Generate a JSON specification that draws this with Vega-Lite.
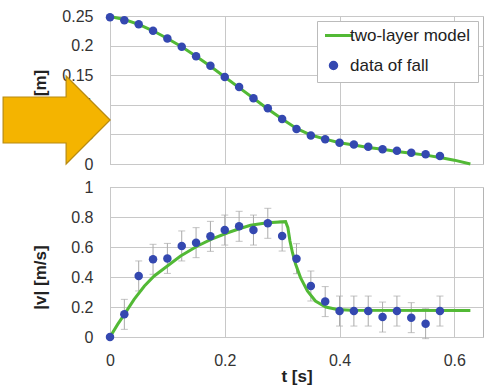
{
  "$schema": "https://vega.github.io/schema/vega-lite/v6.json",
  "background": "white",
  "padding": {"left": 0, "top": 7, "right": 4, "bottom": 1},
  "spacing": 5,
  "config": {
    "font": "Liberation Sans",
    "view": {"stroke": "#B4B4B4", "strokeWidth": 1},
    "axis": {
      "labelFont": "Liberation Sans", "labelFontSize": 16, "labelColor": "#333333", "labelOverlap": false, "labelFlush": false,
      "titleFont": "Liberation Sans", "titleFontSize": 17, "titleFontWeight": "bold", "titleColor": "#222222",
      "gridColor": "#C8C8C8", "gridWidth": 1, "domain": false, "ticks": false, "tickSize": 0
    }
  },
  "datasets": {
    "pos": [
      {"t": 0, "h": 0.248}, {"t": 0.025, "h": 0.243}, {"t": 0.05, "h": 0.236}, {"t": 0.075, "h": 0.225},
      {"t": 0.1, "h": 0.212}, {"t": 0.125, "h": 0.198}, {"t": 0.15, "h": 0.182}, {"t": 0.175, "h": 0.166},
      {"t": 0.2, "h": 0.147}, {"t": 0.225, "h": 0.130}, {"t": 0.25, "h": 0.111}, {"t": 0.275, "h": 0.094},
      {"t": 0.3, "h": 0.076}, {"t": 0.325, "h": 0.059}, {"t": 0.35, "h": 0.048}, {"t": 0.375, "h": 0.042},
      {"t": 0.4, "h": 0.036}, {"t": 0.425, "h": 0.033}, {"t": 0.45, "h": 0.029}, {"t": 0.475, "h": 0.025},
      {"t": 0.5, "h": 0.0225}, {"t": 0.525, "h": 0.019}, {"t": 0.55, "h": 0.0165}, {"t": 0.575, "h": 0.0135}
    ],
    "posModel": [
      {"t": 0, "h": 0.249}, {"t": 0.025, "h": 0.244}, {"t": 0.05, "h": 0.236}, {"t": 0.075, "h": 0.225},
      {"t": 0.1, "h": 0.212}, {"t": 0.125, "h": 0.198}, {"t": 0.15, "h": 0.182}, {"t": 0.175, "h": 0.165},
      {"t": 0.2, "h": 0.147}, {"t": 0.225, "h": 0.129}, {"t": 0.25, "h": 0.111}, {"t": 0.275, "h": 0.093},
      {"t": 0.3, "h": 0.076}, {"t": 0.325, "h": 0.060}, {"t": 0.35, "h": 0.049}, {"t": 0.375, "h": 0.042},
      {"t": 0.4, "h": 0.036}, {"t": 0.425, "h": 0.032}, {"t": 0.45, "h": 0.028}, {"t": 0.475, "h": 0.025},
      {"t": 0.5, "h": 0.021}, {"t": 0.525, "h": 0.018}, {"t": 0.55, "h": 0.015}, {"t": 0.575, "h": 0.011},
      {"t": 0.6, "h": 0.0065}, {"t": 0.628, "h": 0.0}
    ],
    "vel": [
      {"t": 0, "v": 0},
      {"t": 0.025, "v": 0.151, "lo": 0.051, "hi": 0.251}, {"t": 0.05, "v": 0.407, "lo": 0.307, "hi": 0.507},
      {"t": 0.075, "v": 0.518, "lo": 0.418, "hi": 0.618}, {"t": 0.1, "v": 0.524, "lo": 0.424, "hi": 0.624},
      {"t": 0.125, "v": 0.607, "lo": 0.507, "hi": 0.707}, {"t": 0.15, "v": 0.629, "lo": 0.529, "hi": 0.729},
      {"t": 0.175, "v": 0.671, "lo": 0.571, "hi": 0.771}, {"t": 0.2, "v": 0.713, "lo": 0.613, "hi": 0.813},
      {"t": 0.225, "v": 0.738, "lo": 0.638, "hi": 0.838}, {"t": 0.25, "v": 0.713, "lo": 0.613, "hi": 0.813},
      {"t": 0.275, "v": 0.758, "lo": 0.658, "hi": 0.858}, {"t": 0.3, "v": 0.673, "lo": 0.573, "hi": 0.773},
      {"t": 0.325, "v": 0.522, "lo": 0.422, "hi": 0.622}, {"t": 0.35, "v": 0.34, "lo": 0.24, "hi": 0.44},
      {"t": 0.375, "v": 0.236, "lo": 0.136, "hi": 0.336}, {"t": 0.4, "v": 0.173, "lo": 0.073, "hi": 0.273},
      {"t": 0.425, "v": 0.173, "lo": 0.073, "hi": 0.273}, {"t": 0.45, "v": 0.173, "lo": 0.073, "hi": 0.273},
      {"t": 0.475, "v": 0.133, "lo": 0.033, "hi": 0.233}, {"t": 0.5, "v": 0.173, "lo": 0.073, "hi": 0.273},
      {"t": 0.525, "v": 0.129, "lo": 0.029, "hi": 0.229}, {"t": 0.55, "v": 0.089, "lo": -0.011, "hi": 0.189},
      {"t": 0.575, "v": 0.173, "lo": 0.073, "hi": 0.273}
    ],
    "velModel": [
      {"t": 0, "v": 0}, {"t": 0.0133, "v": 0.084}, {"t": 0.025, "v": 0.151}, {"t": 0.042, "v": 0.251},
      {"t": 0.06, "v": 0.34}, {"t": 0.077, "v": 0.407}, {"t": 0.1, "v": 0.473}, {"t": 0.123, "v": 0.54},
      {"t": 0.1525, "v": 0.607}, {"t": 0.176, "v": 0.651}, {"t": 0.205, "v": 0.695}, {"t": 0.228, "v": 0.725},
      {"t": 0.245, "v": 0.745}, {"t": 0.274, "v": 0.762}, {"t": 0.306, "v": 0.769}, {"t": 0.31, "v": 0.729},
      {"t": 0.3136, "v": 0.64}, {"t": 0.318, "v": 0.562}, {"t": 0.3235, "v": 0.485}, {"t": 0.332, "v": 0.396},
      {"t": 0.344, "v": 0.307}, {"t": 0.358, "v": 0.24}, {"t": 0.376, "v": 0.2}, {"t": 0.396, "v": 0.183},
      {"t": 0.42, "v": 0.178}, {"t": 0.628, "v": 0.177}
    ],
    "arrow": [{"t": -0.0948, "h": 0.0743}]
  },
  "vconcat": [
    {
      "width": 373,
      "height": 148,
      "layer": [
        {
          "data": {"name": "posModel"},
          "mark": {"type": "line", "strokeWidth": 3},
          "encoding": {
            "x": {"field": "t", "type": "quantitative", "scale": {"domain": [0, 0.65], "nice": false, "zero": false},
                  "axis": {"title": null, "labels": false, "values": [0, 0.2, 0.4, 0.6], "grid": true, "labelPadding": 0, "minExtent": 0, "maxExtent": 0}},
            "y": {"field": "h", "type": "quantitative", "scale": {"domain": [0, 0.25], "nice": false},
                  "axis": {"title": "h [m]", "tickCount": 5, "format": "~g", "labelOverlap": false,
                           "labelPadding": 17, "minExtent": 48, "maxExtent": 48, "titlePadding": 13}},
            "color": {"datum": "two-layer model", "type": "nominal",
                      "scale": {"domain": ["two-layer model", "data of fall"], "range": ["#52B935", "#3448B0"]},
                      "legend": {
                        "title": null, "orient": "top-right", "offset": 5,
                        "labelFont": "Liberation Sans", "labelFontSize": 17, "labelColor": "#222222",
                        "strokeColor": "#BBBBBB", "fillColor": "white", "padding": 8,
                        "rowPadding": 12, "clipHeight": 13, "symbolSize": 1444, "symbolOffset": 0,
                        "labelOffset": 8,
                        "encode": {"symbols": {"update": {
                          "shape": {"signal": "datum.value === 'two-layer model' ? 'stroke' : 'circle'"},
                          "size": {"signal": "datum.value === 'two-layer model' ? 1444 : 42"},
                          "stroke": {"signal": "datum.value === 'two-layer model' ? '#52B935' : 'transparent'"},
                          "strokeWidth": {"value": 3},
                          "fill": {"signal": "datum.value === 'two-layer model' ? 'transparent' : '#3448B0'"},
                          "opacity": {"value": 1}
                        }}}
                      }}
          }
        },
        {
          "data": {"name": "pos"},
          "mark": {"type": "point", "filled": true, "size": 72, "opacity": 1},
          "encoding": {
            "x": {"field": "t", "type": "quantitative"},
            "y": {"field": "h", "type": "quantitative"},
            "color": {"datum": "data of fall", "type": "nominal"}
          }
        },
        {
          "data": {"name": "arrow"},
          "mark": {"type": "point", "shape": "M1,0 L0.193,-0.807 L0.193,-0.422 L-0.963,-0.422 L-0.963,0.422 L0.193,0.422 L0.193,0.807 Z",
                   "size": 11881, "filled": true, "fill": "#F4B400", "stroke": "#B88A10", "strokeWidth": 1.2, "opacity": 1, "clip": false},
          "encoding": {
            "x": {"field": "t", "type": "quantitative"},
            "y": {"field": "h", "type": "quantitative"}
          }
        }
      ]
    },
    {
      "width": 373,
      "height": 150,
      "layer": [
        {
          "data": {"name": "vel"},
          "mark": {"type": "errorbar", "ticks": {"size": 7, "color": "#AAAAAA"}, "rule": {"color": "#AAAAAA", "strokeWidth": 1}},
          "encoding": {
            "x": {"field": "t", "type": "quantitative", "title": "t [s]"},
            "y": {"field": "lo", "type": "quantitative", "title": "|v| [m/s]"},
            "y2": {"field": "hi"}
          }
        },
        {
          "data": {"name": "velModel"},
          "mark": {"type": "line", "strokeWidth": 3},
          "encoding": {
            "x": {"field": "t", "type": "quantitative", "title": "t [s]",
                  "scale": {"domain": [0, 0.65], "nice": false, "zero": false},
                  "axis": {"values": [0, 0.2, 0.4, 0.6], "format": "~g", "labelPadding": 15, "titlePadding": 0}},
            "y": {"field": "v", "type": "quantitative", "title": "|v| [m/s]",
                  "scale": {"domain": [0, 1], "nice": false},
                  "axis": {"tickCount": 5, "format": "~g", "labelOverlap": false,
                           "labelPadding": 17, "minExtent": 48, "maxExtent": 48, "titlePadding": 13, "titleY": 90}},
            "color": {"datum": "two-layer model", "type": "nominal",
                      "scale": {"domain": ["two-layer model", "data of fall"], "range": ["#52B935", "#3448B0"]},
                      "legend": null}
          }
        },
        {
          "data": {"name": "vel"},
          "mark": {"type": "point", "filled": true, "size": 72, "opacity": 1},
          "encoding": {
            "x": {"field": "t", "type": "quantitative", "title": "t [s]"},
            "y": {"field": "v", "type": "quantitative", "title": "|v| [m/s]"},
            "color": {"datum": "data of fall", "type": "nominal", "legend": null}
          }
        }
      ]
    }
  ],
  "resolve": {"scale": {"color": "independent"}, "legend": {"color": "independent"}}
}
